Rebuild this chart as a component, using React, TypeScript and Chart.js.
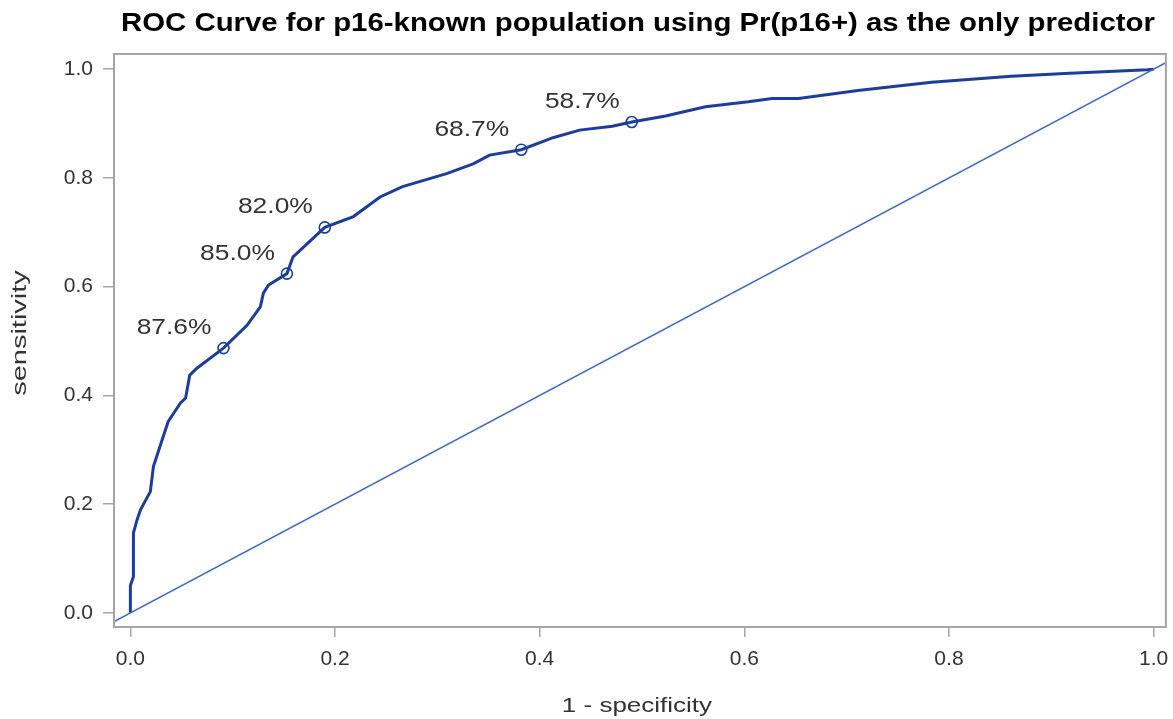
import React, { useEffect, useRef } from "react";
import { Chart, registerables } from "chart.js";

Chart.register(...registerables);

const titleText = "ROC Curve for p16-known population using Pr(p16+) as the only predictor";
const xAxisTitle = "1 - specificity";
const yAxisTitle = "sensitivity";

const tickValues = [0, 0.2, 0.4, 0.6, 0.8, 1.0];

// ROC curve (1 - specificity, sensitivity)
const rocFpr = [
  0.0, 0.0, 0.003, 0.003, 0.0065, 0.01, 0.0195, 0.0225, 0.031, 0.037, 0.049, 0.054, 0.058, 0.065,
  0.091, 0.114, 0.127, 0.130, 0.135, 0.153, 0.159, 0.190, 0.218, 0.244, 0.266, 0.309, 0.335, 0.351,
  0.382, 0.413, 0.439, 0.471, 0.490, 0.523, 0.562, 0.604, 0.627, 0.653, 0.711, 0.783, 0.861, 0.913,
  0.994, 1.0,
];
const rocTpr = [
  0.0, 0.05, 0.067, 0.147, 0.171, 0.19, 0.223, 0.269, 0.318, 0.352, 0.386, 0.395, 0.437, 0.45,
  0.487, 0.529, 0.563, 0.588, 0.603, 0.624, 0.655, 0.709, 0.729, 0.765, 0.784, 0.808, 0.826, 0.842,
  0.852, 0.874, 0.888, 0.895, 0.903, 0.914, 0.931, 0.94, 0.946, 0.946, 0.961, 0.976, 0.987, 0.992,
  0.999, 1.0,
];

// Labelled cut-off points
const markerFpr = [0.091, 0.153, 0.19, 0.382, 0.49];
const markerTpr = [0.487, 0.624, 0.709, 0.852, 0.903];
const markerLabels = ["87.6%", "85.0%", "82.0%", "68.7%", "58.7%"];

// Reference diagonal
const diagX = [-0.05, 1.05];
const diagY = [-0.05, 1.05];

const xMin = -0.016;
const xMax = 1.012;
const yMin = -0.026;
const yMax = 1.028;

const curveColor = "#1c3d9c";
const diagColor = "#4169c4";
const frameColor = "#a6a6a6";
const textColor = "#333333";
const fontFamily = "'Liberation Sans', Arial, sans-serif";

function drawStretched(ctx: any, text: string, x: number, y: number, sx: number, align: string, rot = 0) {
  ctx.save();
  ctx.translate(x, y);
  if (rot) ctx.rotate(rot);
  ctx.scale(sx, 1);
  ctx.textAlign = align;
  ctx.fillText(text, 0, 0);
  ctx.restore();
}

const framePlugin = {
  id: "framePlugin",
  afterDraw(chart: any) {
    const { ctx, chartArea } = chart;
    ctx.save();
    ctx.strokeStyle = frameColor;
    ctx.lineWidth = 2;
    ctx.strokeRect(chartArea.left, chartArea.top, chartArea.right - chartArea.left, chartArea.bottom - chartArea.top);
    ctx.restore();
  },
};

const textPlugin = {
  id: "textPlugin",
  afterDraw(chart: any) {
    const { ctx, chartArea } = chart;
    const xs = chart.scales.x;
    const ys = chart.scales.y;
    ctx.save();
    // title
    ctx.fillStyle = "#000000";
    ctx.font = `bold 25px ${fontFamily}`;
    ctx.textBaseline = "alphabetic";
    drawStretched(ctx, titleText, (chartArea.left + chartArea.right) / 2 - 2, 31, 1.175, "center");
    // axis titles
    ctx.fillStyle = textColor;
    ctx.font = `20px ${fontFamily}`;
    ctx.textBaseline = "middle";
    drawStretched(ctx, xAxisTitle, (chartArea.left + chartArea.right) / 2 - 3, 706, 1.3, "center");
    drawStretched(ctx, yAxisTitle, 20, 333, 1.45, "center", -Math.PI / 2);
    // cut-off labels
    ctx.font = `22px ${fontFamily}`;
    markerLabels.forEach((lab, i) => {
      const px = xs.getPixelForValue(markerFpr[i]);
      const py = ys.getPixelForValue(markerTpr[i]);
      drawStretched(ctx, lab, px - 12, py - 20, 1.2, "right");
    });
    ctx.restore();
  },
};

export default function App() {
  const canvasRef = useRef<HTMLCanvasElement | null>(null);

  useEffect(() => {
    document.body.style.margin = "0";
    const canvas = canvasRef.current;
    if (!canvas) return;
    const chart = new Chart(canvas, {
      type: "scatter",
      data: {
        datasets: [
          {
            label: "diagonal",
            data: diagX.map((x, i) => ({ x, y: diagY[i] })),
            showLine: true,
            borderColor: diagColor,
            borderWidth: 1.6,
            pointRadius: 0,
            fill: false,
          },
          {
            label: "ROC",
            data: rocFpr.map((x, i) => ({ x, y: rocTpr[i] })),
            showLine: true,
            borderColor: curveColor,
            borderWidth: 3,
            pointRadius: 0,
            tension: 0,
            fill: false,
          },
          {
            label: "cutoffs",
            data: markerFpr.map((x, i) => ({ x, y: markerTpr[i] })),
            showLine: false,
            borderColor: curveColor,
            backgroundColor: "rgba(0,0,0,0)",
            borderWidth: 1.6,
            pointRadius: 5.5,
            pointStyle: "circle",
          },
        ],
      },
      options: {
        animation: false,
        responsive: false,
        maintainAspectRatio: false,
        layout: { padding: { left: 0, right: 3, top: 54, bottom: 0 } },
        plugins: {
          legend: { display: false },
          tooltip: { enabled: false },
          title: { display: false },
        },
        scales: {
          x: {
            type: "linear",
            min: xMin,
            max: xMax,
            afterBuildTicks: (scale: any) => {
              scale.ticks = tickValues.map((v) => ({ value: v }));
            },
            afterFit: (scale: any) => {
              scale.height = 92;
              scale.paddingLeft = 0;
              scale.paddingRight = 0;
            },
            grid: { drawOnChartArea: false, drawTicks: true, tickLength: 10, color: frameColor, lineWidth: 1.5 },
            border: { display: false },
            ticks: {
              color: textColor,
              font: { family: fontFamily, size: 21 },
              padding: 10,
              maxRotation: 0,
              callback: (v: any) => Number(v).toFixed(1),
            },
            title: { display: false },
          },
          y: {
            type: "linear",
            min: yMin,
            max: yMax,
            afterBuildTicks: (scale: any) => {
              scale.ticks = tickValues.map((v) => ({ value: v }));
            },
            afterFit: (scale: any) => {
              scale.width = 114;
              scale.paddingTop = 0;
              scale.paddingBottom = 0;
            },
            grid: { drawOnChartArea: false, drawTicks: true, tickLength: 11, color: frameColor, lineWidth: 1.5 },
            border: { display: false },
            ticks: {
              color: textColor,
              font: { family: fontFamily, size: 21 },
              padding: 10,
              callback: (v: any) => Number(v).toFixed(1),
            },
            title: { display: false },
          },
        },
      },
      plugins: [framePlugin, textPlugin],
    });
    return () => chart.destroy();
  }, []);

  return (
    <div style={{ width: 1173, height: 719, background: "#ffffff" }}>
      <canvas ref={canvasRef} width={1173} height={719} style={{ display: "block" }} />
    </div>
  );
}
